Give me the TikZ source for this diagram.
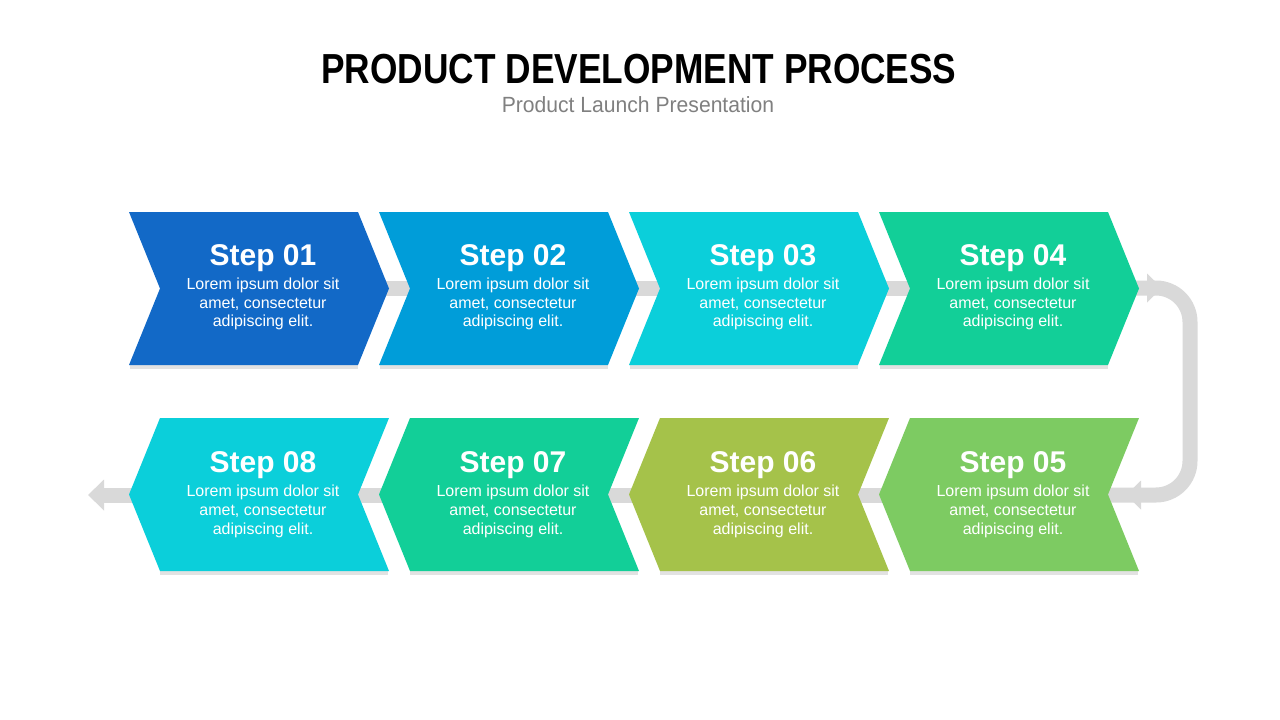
\documentclass[tikz,border=0pt]{standalone}
\usepackage{fontspec}
\setmainfont{Liberation Sans}
\newfontfamily\titlefont[FakeStretch=0.84]{Liberation Sans}
\newfontfamily\subfont[FakeStretch=0.96]{Liberation Sans}
\usetikzlibrary{arrows.meta}
\definecolor{cA}{HTML}{1269C7}
\definecolor{cB}{HTML}{009DD9}
\definecolor{cC}{HTML}{0BCFDA}
\definecolor{cD}{HTML}{12CF98}
\definecolor{cE}{HTML}{7DCB62}
\definecolor{cF}{HTML}{A5C24A}
\definecolor{barc}{HTML}{D9D9D9}
\definecolor{shc}{HTML}{E2E2E2}
\definecolor{subc}{HTML}{808080}
\tikzset{
  bar/.style={draw=barc, line width=15pt},
  tiphead/.style={fill=barc},
  stephead/.style={font=\bfseries\fontsize{30}{32}\selectfont, text=white, anchor=base, inner sep=0pt},
  stepbody/.style={font=\fontsize{16}{18.6}\selectfont, text=white, align=center, anchor=north, inner sep=0pt},
}
% right-pointing chevron: #1 left x, #2 top y, #3 colour
\newcommand\chevRight[3]{%
  \fill[shc] (#1+1,#2+150) rectangle (#1+229,#2+156.5);
  \fill[#3] (#1,#2) -- ++(229,0) -- ++(31,76.5) -- ++(-31,76.5) -- ++(-229,0) -- ++(31,-76.5) -- cycle;
}
% left-pointing chevron
\newcommand\chevLeft[3]{%
  \fill[shc] (#1+31,#2+150) rectangle (#1+259,#2+156.5);
  \fill[#3] (#1+31,#2) -- ++(229,0) -- ++(-31,76.5) -- ++(31,76.5) -- ++(-229,0) -- ++(-31,-76.5) -- cycle;
}
\newcommand\lorem{Lorem ipsum dolor sit\\amet, consectetur\\adipiscing elit.}
\begin{document}
\begin{tikzpicture}[x=1pt,y=-1pt]
\useasboundingbox (0,0) rectangle (1280,720);
\fill[white] (0,0) rectangle (1280,720);

% titles
\node[font=\titlefont\bfseries\fontsize{42}{44}\selectfont, anchor=base, inner sep=0pt] (title) at (639,83) {PRODUCT DEVELOPMENT PROCESS};
\node[font=\subfont\fontsize{22}{24}\selectfont, text=subc, anchor=base, inner sep=0pt] (subtitle) at (638,112) {Product Launch Presentation};

% connector anchor points
\coordinate (m1) at (259,288);
\coordinate (m2) at (509,288);
\coordinate (m3) at (759,288);
\coordinate (m4) at (1009,288);
\coordinate (m5) at (1009,495);
\coordinate (m6) at (759,495);
\coordinate (m7) at (509,495);
\coordinate (m8) at (259,495);
\coordinate (lt) at (1190,288);
\coordinate (lb) at (1190,495);
\coordinate (la) at (88,495);

% connectors
\draw[bar] (m1) -- (m2);
\draw[bar] (m2) -- (m3);
\draw[bar] (m3) -- (m4);
\draw[bar, rounded corners=34pt] (m4) -- (lt) -- (lb) -- (m5);
\draw[bar] (m5) -- (m6);
\draw[bar] (m6) -- (m7);
\draw[bar] (m7) -- (m8);
\draw[bar, -{Triangle[length=16pt,width=30pt]}] (m8) -- (la);
\fill[tiphead] (1147,273.5) -- (1162,288) -- (1147,302.5) -- cycle;
\fill[tiphead] (1141,480.5) -- (1126,495) -- (1141,509.5) -- cycle;

% chevrons
\chevRight{129}{212}{cA}
\chevRight{379}{212}{cB}
\chevRight{629}{212}{cC}
\chevRight{879}{212}{cD}
\chevLeft{879}{418}{cE}
\chevLeft{629}{418}{cF}
\chevLeft{379}{418}{cD}
\chevLeft{129}{418}{cC}

% texts
\node[stephead] (h1) at (263,265) {Step 01};
\node[stepbody] (b1) at (263,278) {\lorem};
\node[stephead] (h2) at (513,265) {Step 02};
\node[stepbody] (b2) at (513,278) {\lorem};
\node[stephead] (h3) at (763,265) {Step 03};
\node[stepbody] (b3) at (763,278) {\lorem};
\node[stephead] (h4) at (1013,265) {Step 04};
\node[stepbody] (b4) at (1013,278) {\lorem};
\node[stephead] (h5) at (1013,472) {Step 05};
\node[stepbody] (b5) at (1013,485) {\lorem};
\node[stephead] (h6) at (763,472) {Step 06};
\node[stepbody] (b6) at (763,485) {\lorem};
\node[stephead] (h7) at (513,472) {Step 07};
\node[stepbody] (b7) at (513,485) {\lorem};
\node[stephead] (h8) at (263,472) {Step 08};
\node[stepbody] (b8) at (263,485) {\lorem};
\end{tikzpicture}
\end{document}
